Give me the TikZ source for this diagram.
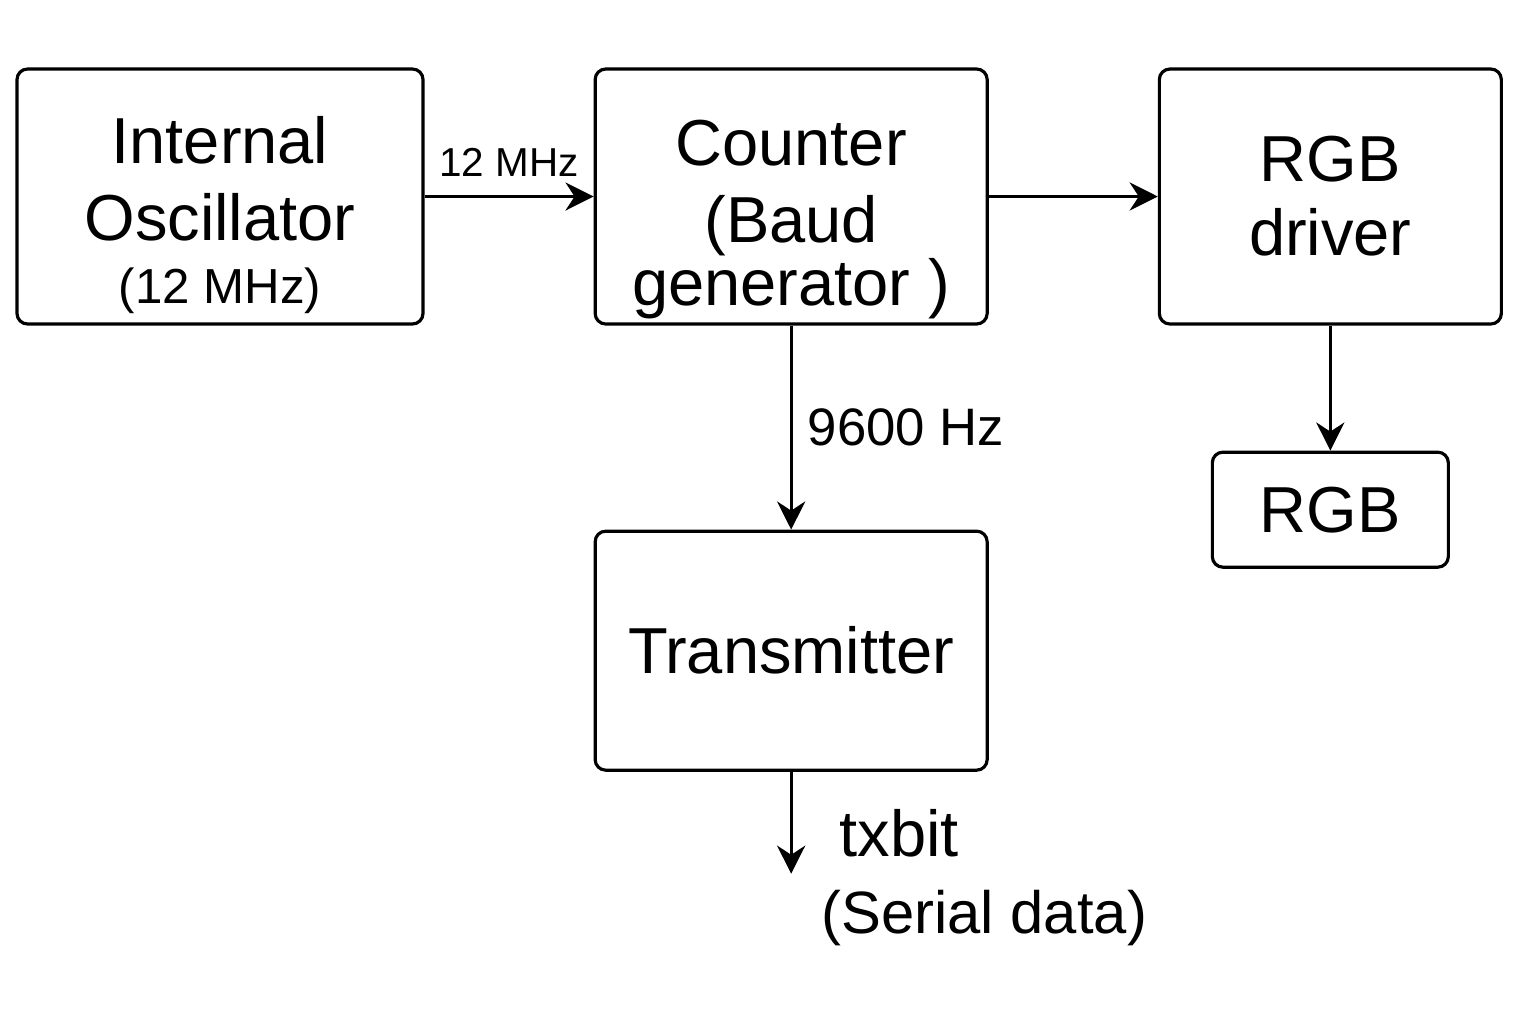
\documentclass[tikz,border=0pt]{standalone}
\usepackage{fontspec}
\setmainfont{Liberation Sans}
\usepackage{tikz}
\usetikzlibrary{positioning,arrows.meta}
\newcommand{\boxfont}{\fontsize{18.5}{22}\selectfont}
\newcommand{\lblfont}{\fontsize{11.5}{14}\selectfont}

\begin{document}
\begin{tikzpicture}[->,>={Stealth[length=8pt,width=8pt]},line width=0.9pt,
	blk/.style={draw,rounded corners=3pt,align=center,font=\boxfont,inner sep=0pt},
	txt/.style={font=\boxfont,inner sep=0pt,anchor=west}]
		\useasboundingbox (0,0) rectangle (15.36,-10.24);
		\node[blk,minimum width=4.06cm,minimum height=2.55cm]
		(osc) at (2.20,-1.965) 			{\rule{0pt}{24pt}Internal\\Oscillator\\[-4pt]{\fontsize{14}{17}\selectfont (12 MHz)}};
		\node[blk,minimum width=3.92cm,minimum height=2.55cm]
		(counter) [right=1.69cm of osc] 	{\rule{0pt}{26pt}Counter\\(Baud\\[-4pt]generator )};
		\node[blk,minimum width=3.42cm,minimum height=2.55cm]
		(driver) [right=1.69cm of counter] 	{RGB\\[-1pt]driver};
		\node[blk,minimum width=2.36cm,minimum height=1.15cm]
		(rgb) [below=1.25cm of driver] 		{RGB};
		\node[blk,minimum width=3.92cm,minimum height=2.39cm]
		(tx) [below=2.04cm of counter] 		{Transmitter};
		\path (tx.south) ++(0,-1.02) coordinate (txout);
		\node[txt] (txbit) at (8.38,-8.33) 	{txbit};
		\node[txt,font=\fontsize{17}{20}\selectfont] (serial) at (8.20,-9.18) 	{(Serial data)};
		
		\path[->] (osc) edge node[above=2pt,font=\lblfont] {12 MHz} (counter);
		\path[->] (counter) edge (driver);
		\path[->] (counter) edge node[right=1pt,font=\fontsize{15}{18}\selectfont] {9600 Hz} (tx);
		\path[->] (driver) edge (rgb);
		\path[->] (tx) edge (txout);
		\end{tikzpicture}
\end{document}
